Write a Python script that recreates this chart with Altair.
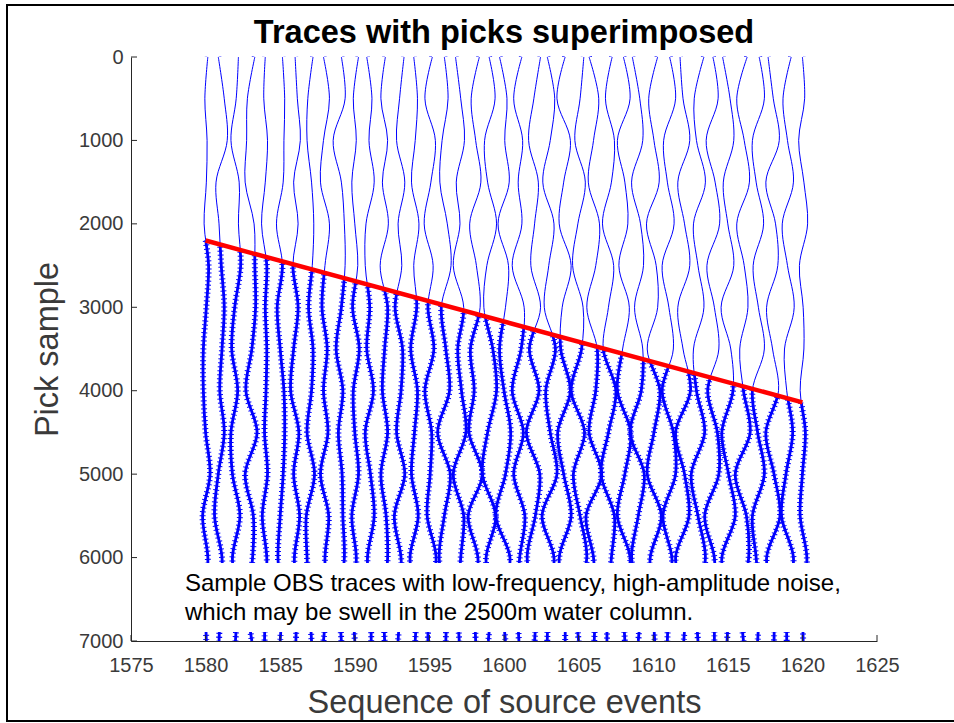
import altair as alt
import pandas as pd

# ---------------- data ----------------
samples = [0, 500, 1000, 1500, 2000, 2500, 3000, 3500, 4000, 4500, 5000, 5500, 6000, 6500, 7000]
events = list(range(1580, 1621))

# horizontal deflection of each trace (in event units) at the sample depths above
t1580 = [0.15, -0.05, 0.10, 0.05, -0.10, 0.20, 0.05, -0.15, -0.15, 0.00, 0.30, -0.20, 0.15, 0.00, 0.05]
t1581 = [-0.15, 0.25, 0.45, -0.30, -0.10, 0.05, 0.25, 0.10, -0.05, 0.25, -0.15, -0.40, 0.10, 0.00, -0.10]
t1582 = [0.20, 0.05, -0.30, 0.25, 0.20, 0.35, -0.05, -0.25, 0.15, -0.30, -0.20, 0.30, -0.20, 0.10, 0.00]
t1583 = [0.30, -0.20, -0.25, -0.35, 0.25, 0.30, 0.35, 0.10, -0.30, 0.45, -0.35, 0.20, 0.15, -0.20, 0.10]
t1584 = [0.00, -0.10, 0.15, 0.00, -0.25, 0.10, 0.00, 0.10, 0.05, -0.05, 0.15, -0.20, 0.10, 0.00, -0.05]
t1585 = [0.15, 0.30, 0.25, 0.20, -0.25, 0.15, -0.20, 0.00, 0.25, 0.30, 0.20, 0.00, -0.15, 0.10, 0.00]
t1586 = [0.00, 0.15, 0.35, -0.10, 0.20, -0.15, 0.20, -0.10, -0.30, 0.25, -0.10, 0.30, -0.05, 0.10, 0.05]
t1587 = [0.20, -0.15, -0.20, 0.10, 0.25, 0.15, -0.10, 0.20, 0.10, -0.20, 0.30, -0.25, -0.20, -0.05, 0.10]
t1588 = [-0.10, 0.30, -0.10, -0.30, 0.30, 0.00, -0.20, 0.15, -0.10, 0.20, -0.30, 0.25, 0.00, 0.10, -0.10]
t1589 = [0.10, 0.35, -0.45, 0.10, 0.30, 0.35, 0.10, -0.25, 0.20, -0.10, 0.15, 0.20, 0.30, 0.00, 0.10]
t1590 = [0.25, -0.10, 0.10, -0.20, 0.00, 0.20, -0.15, 0.30, -0.10, 0.00, 0.25, -0.20, 0.10, -0.10, 0.00]
t1591 = [-0.20, 0.15, -0.05, 0.30, -0.25, -0.30, 0.00, -0.20, 0.25, -0.30, 0.05, 0.30, -0.15, 0.05, 0.10]
t1592 = [0.05, -0.25, 0.20, -0.15, 0.25, -0.30, 0.20, 0.00, -0.15, 0.20, -0.25, 0.10, 0.20, -0.05, 0.00]
t1593 = [0.30, 0.00, -0.20, 0.35, -0.10, 0.15, -0.30, 0.20, 0.10, -0.20, 0.35, -0.35, 0.10, 0.05, -0.10]
t1594 = [-0.05, 0.20, 0.05, -0.20, 0.30, -0.05, 0.15, -0.25, 0.20, 0.00, -0.20, 0.25, -0.30, 0.10, 0.05]
t1595 = [0.20, -0.30, 0.40, 0.10, -0.35, 0.25, -0.10, 0.30, -0.30, 0.15, 0.05, -0.15, 0.45, 0.00, -0.10]
t1596 = [0.00, 0.25, -0.15, -0.30, 0.20, 0.45, -0.20, 0.10, 0.35, -0.45, 0.40, 0.00, -0.35, 0.10, 0.10]
t1597 = [-0.25, 0.10, 0.35, -0.20, 0.05, -0.40, 0.30, -0.10, 0.15, 0.45, -0.40, 0.30, 0.10, -0.10, 0.00]
t1598 = [0.35, -0.20, 0.10, 0.45, -0.30, 0.15, 0.40, -0.25, 0.00, -0.35, 0.55, -0.40, 0.25, 0.05, 0.10]
t1599 = [0.00, 0.40, -0.30, -0.10, 0.50, -0.15, -0.35, 0.25, 0.50, -0.10, -0.45, 0.45, -0.20, 0.10, -0.05]
t1600 = [-0.30, 0.20, 0.05, 0.35, -0.40, 0.30, 0.10, -0.30, 0.00, 0.45, 0.10, -0.55, 0.40, -0.05, 0.10]
t1601 = [0.20, -0.35, 0.25, -0.05, 0.20, -0.45, 0.35, 0.15, -0.45, 0.30, -0.35, 0.40, 0.05, -0.10, 0.00]
t1602 = [0.45, 0.00, -0.35, 0.30, 0.05, -0.20, 0.45, -0.30, 0.35, -0.50, 0.40, 0.10, -0.45, 0.10, 0.05]
t1603 = [-0.10, 0.40, 0.10, -0.40, 0.35, 0.00, -0.30, 0.45, -0.20, 0.10, 0.55, -0.45, 0.35, 0.00, -0.10]
t1604 = [0.10, -0.45, 0.45, 0.00, -0.30, 0.50, -0.10, -0.20, 0.45, -0.40, 0.00, 0.50, -0.30, 0.05, 0.10]
t1605 = [0.35, 0.10, -0.25, 0.45, -0.05, -0.40, 0.30, 0.20, -0.50, 0.40, -0.35, 0.10, 0.55, -0.10, 0.00]
t1606 = [-0.30, 0.35, 0.00, -0.35, 0.40, 0.15, -0.45, 0.25, 0.15, -0.30, 0.55, -0.50, 0.00, 0.10, 0.05]
t1607 = [0.25, -0.20, 0.40, 0.20, -0.40, 0.35, 0.00, -0.35, 0.50, 0.00, -0.50, 0.40, 0.20, -0.05, -0.10]
t1608 = [0.00, 0.45, -0.40, 0.10, 0.30, -0.30, 0.40, -0.05, -0.40, 0.50, 0.10, -0.40, 0.45, 0.05, 0.10]
t1609 = [-0.40, 0.10, 0.30, -0.45, 0.15, 0.35, -0.25, 0.30, 0.20, -0.55, 0.40, 0.00, -0.45, 0.10, 0.00]
t1610 = [0.30, -0.30, 0.05, 0.40, -0.45, 0.20, 0.30, -0.40, 0.45, 0.05, -0.40, 0.55, -0.20, -0.05, 0.10]
t1611 = [0.10, 0.50, -0.30, -0.05, 0.40, -0.40, 0.05, 0.35, -0.40, 0.35, 0.50, -0.35, 0.25, 0.05, -0.05]
t1612 = [-0.20, 0.00, 0.45, -0.35, 0.10, 0.45, -0.35, 0.00, 0.50, -0.50, 0.10, 0.40, -0.50, 0.10, 0.05]
t1613 = [0.40, -0.25, -0.10, 0.50, -0.30, 0.00, 0.40, -0.30, -0.10, 0.45, -0.45, 0.00, 0.50, -0.05, 0.00]
t1614 = [0.00, 0.35, -0.45, 0.15, 0.45, -0.40, 0.10, 0.40, -0.35, 0.30, 0.40, -0.55, 0.10, 0.10, 0.10]
t1615 = [-0.35, 0.15, 0.40, -0.30, 0.00, 0.40, -0.45, 0.20, 0.35, -0.40, 0.05, 0.50, -0.40, 0.00, -0.05]
t1616 = [0.30, -0.40, 0.10, 0.45, -0.40, 0.10, 0.35, -0.20, 0.05, 0.50, -0.50, 0.25, 0.40, -0.10, 0.05]
t1617 = [0.10, 0.45, -0.35, -0.10, 0.40, -0.30, 0.05, 0.45, -0.35, 0.00, 0.45, -0.35, -0.10, 0.10, 0.00]
t1618 = [-0.30, 0.05, 0.45, -0.45, 0.20, 0.35, -0.40, 0.00, 0.40, -0.45, 0.10, 0.50, -0.40, 0.05, 0.10]
t1619 = [0.25, -0.30, 0.00, 0.40, -0.35, 0.00, 0.45, -0.20, -0.05, 0.35, -0.10, -0.40, 0.40, 0.00, -0.05]
t1620 = [0.00, 0.15, -0.25, 0.10, 0.35, -0.20, 0.05, 0.10, -0.15, 0.20, 0.00, -0.15, 0.30, 0.05, 0.05]

trace_offsets = [t1580, t1581, t1582, t1583, t1584, t1585, t1586, t1587, t1588, t1589,
                 t1590, t1591, t1592, t1593, t1594, t1595, t1596, t1597, t1598, t1599,
                 t1600, t1601, t1602, t1603, t1604, t1605, t1606, t1607, t1608, t1609,
                 t1610, t1611, t1612, t1613, t1614, t1615, t1616, t1617, t1618, t1619, t1620]

# picked first arrival (red line ends)
pick_events = [1580, 1620]
pick_samples = [2200, 4140]

x_ticks = [1575, 1580, 1585, 1590, 1595, 1600, 1605, 1610, 1615, 1620, 1625]
y_ticks = [0, 1000, 2000, 3000, 4000, 5000, 6000, 7000]

title_text = "Traces with picks superimposed"
x_title = "Sequence of source events"
y_title = "Pick sample"
note_lines = ["Sample OBS traces with low-frequency, high-amplitude noise,",
              "which may be swell in the 2500m water column."]

# ---------------- tables ----------------
rows = []
for ev, offs in zip(events, trace_offsets):
    for k, (s, o) in enumerate(zip(samples, offs)):
        rows.append({"trace": ev, "k": k, "x": ev + o, "y": s})
traces = pd.DataFrame(rows)

pick_df = pd.DataFrame({"x": pick_events, "y": pick_samples})
slope = (pick_samples[1] - pick_samples[0]) / (pick_events[1] - pick_events[0])
mask_df = pd.DataFrame({
    "x": [pick_events[0] - 1, pick_events[1] + 1],
    "y": [0, 0],
    "pick": [pick_samples[0] - slope, pick_samples[1] + slope],
})
one = pd.DataFrame({"a": [0]})

FONT = "Liberation Sans"
GRAY = "#262626"

xscale = alt.Scale(domain=[1575, 1625], nice=False, zero=False)
yscale = alt.Scale(domain=[0, 7000], reverse=True, nice=False, zero=False)

x_axis = alt.Axis(values=x_ticks, ticks=False, grid=False, domainColor=GRAY, domainWidth=1,
                  labelColor="#3a3a3a", labelFontSize=20, labelFont=FONT, labelPadding=14,
                  labelFlush=False, labelOverlap=False, format="d",
                  title=x_title, titleFont=FONT, titleFontSize=32.5, titleFontWeight="normal",
                  titleColor="#3a3a3a", titlePadding=11)
y_axis = alt.Axis(values=y_ticks, ticks=False, grid=False, domainColor=GRAY, domainWidth=1,
                  labelColor="#3a3a3a", labelFontSize=20, labelFont=FONT, labelPadding=8,
                  labelOverlap=False, format="d",
                  title=y_title, titleFont=FONT, titleFontSize=32.5, titleFontWeight="normal",
                  titleColor="#3a3a3a", titlePadding=14)

X = alt.X("x:Q", scale=xscale, axis=x_axis)
Y = alt.Y("y:Q", scale=yscale, axis=y_axis)

thick = alt.Chart(traces).mark_line(color="#0000ff", strokeWidth=2.8, interpolate="catmull-rom").encode(
    x=X, y=Y, detail="trace:N", order="k:Q")
jitter = alt.Chart(traces).mark_line(color="#0000ff", strokeWidth=6, strokeDash=[1, 3],
                                     interpolate="catmull-rom").encode(
    x=X, y=Y, detail="trace:N", order="k:Q")

mask = alt.Chart(mask_df).mark_area(color="white", opacity=1).encode(x=X, y=Y, y2="pick:Q")

thin = alt.Chart(traces).mark_line(color="#0000ff", strokeWidth=1, interpolate="catmull-rom").encode(
    x=X, y=Y, detail="trace:N", order="k:Q")

pick = alt.Chart(pick_df).mark_line(color="#ff0000", strokeWidth=4.5).encode(x=X, y=Y)

ytick_marks = alt.Chart(pd.DataFrame({"y": y_ticks})).mark_rule(color=GRAY, strokeWidth=1).encode(
    y=Y, x=alt.value(0), x2=alt.value(6))
xtick_marks = alt.Chart(pd.DataFrame({"x": x_ticks})).mark_rule(color=GRAY, strokeWidth=1).encode(
    x=X, y=alt.value(584), y2=alt.value(578))

note_box = alt.Chart(one).mark_rect(fill="white").encode(
    x=alt.value(47), x2=alt.value(721), y=alt.value(506), y2=alt.value(575))
note1 = alt.Chart(one).mark_text(align="left", baseline="middle", font=FONT, fontSize=24,
                                 color="black").encode(
    x=alt.value(54), y=alt.value(527), text=alt.value(note_lines[0]))
note2 = alt.Chart(one).mark_text(align="left", baseline="middle", font=FONT, fontSize=24,
                                 color="black").encode(
    x=alt.value(54), y=alt.value(556), text=alt.value(note_lines[1]))

title = alt.Chart(one).mark_text(align="center", baseline="middle", font=FONT, fontSize=32.5,
                                 fontWeight="bold", color="black").encode(
    x=alt.value(373), y=alt.value(-24), text=alt.value(title_text))

frame = alt.Chart(one).mark_rect(fill=None, fillOpacity=0, stroke="black", strokeWidth=2).encode(
    x=alt.value(-124), x2=alt.value(840), y=alt.value(-52), y2=alt.value(664))

chart = alt.layer(
    thick, jitter, mask, thin, pick, ytick_marks, xtick_marks, note_box, note1, note2, title, frame
).properties(
    width=746, height=584,
    padding={"left": 131, "top": 57, "right": 77, "bottom": 82},
    autosize=alt.AutoSizeParams(type="none"),
    background="white",
).configure_view(stroke=None)

chart.save("out.html", embed_options={"renderer": "svg", "actions": False})
